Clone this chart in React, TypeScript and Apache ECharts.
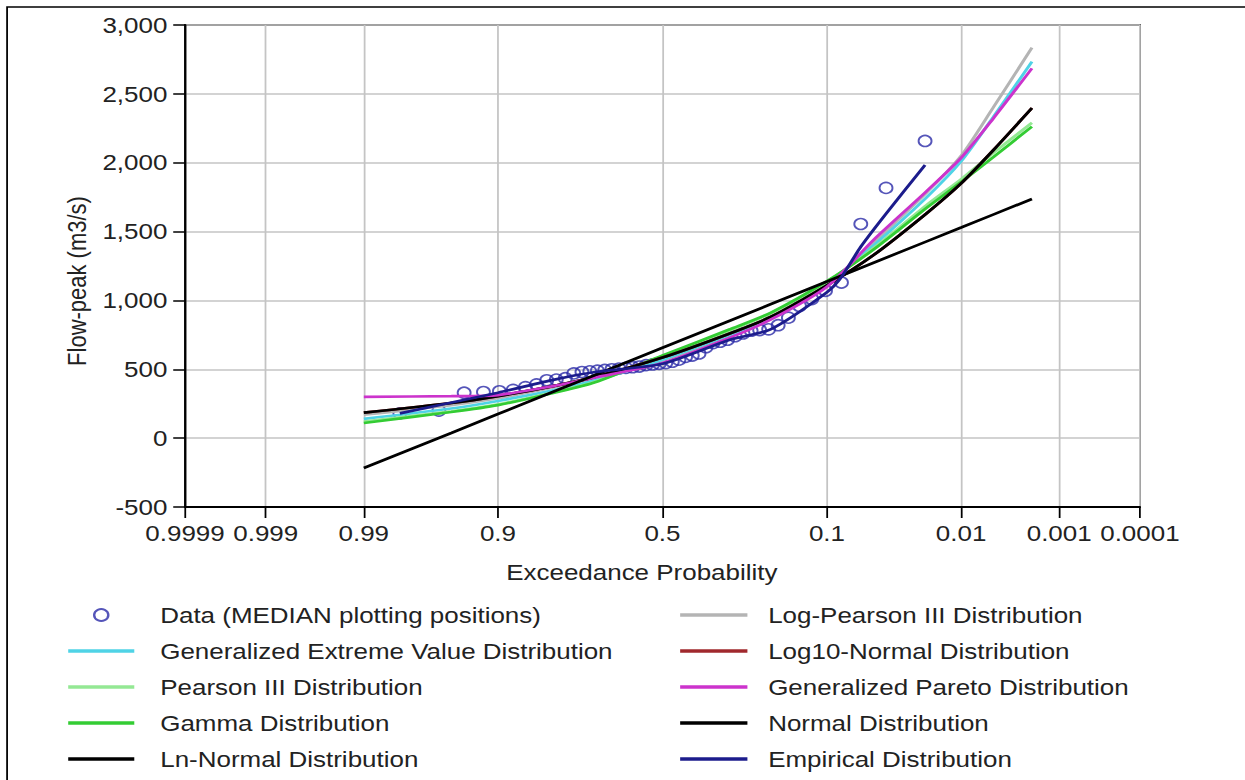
import React, { useEffect, useRef } from 'react';
import * as echarts from 'echarts';

// Horizontal stretch of the original picture
const S = 1.18;
const CW = 1245 / S;

const X_TICK_LABELS = ['0.9999', '0.999', '0.99', '0.9', '0.5', '0.1', '0.01', '0.001', '0.0001'];
const Y_MIN = -500;
const Y_MAX = 3000;
const Y_STEP = 500;

// Observed data (exceedance probability, flow)
const DATA_P = [0.0204, 0.0408, 0.0612, 0.0816, 0.102, 0.1224, 0.1429, 0.1633, 0.1837, 0.2041, 0.2245, 0.2449,
  0.2653, 0.2857, 0.3061, 0.3265, 0.3469, 0.3673, 0.3878, 0.4082, 0.4286, 0.449, 0.4694, 0.4898,
  0.5102, 0.5306, 0.551, 0.5714, 0.5918, 0.6122, 0.6327, 0.6531, 0.6735, 0.6939, 0.7143, 0.7347,
  0.7551, 0.7755, 0.7959, 0.8163, 0.8367, 0.8571, 0.8776, 0.898, 0.9184, 0.9388, 0.9592, 0.9796];
const DATA_Q = [2158, 1817, 1555, 1130, 1070, 1010, 960, 875, 820, 790, 785, 780,
  760, 740, 715, 700, 690, 660, 615, 600, 590, 570, 555, 545,
  540, 535, 530, 520, 515, 510, 505, 500, 495, 490, 485, 480,
  470, 435, 425, 420, 390, 370, 350, 340, 335, 330, 200, 180];

// Fitted distributions, read at these exceedance probabilities
const CURVE_P = [0.99, 0.95, 0.9, 0.8, 0.7, 0.5, 0.3, 0.2, 0.1, 0.05, 0.02, 0.01, 0.005, 0.002];
const GEV_Q = [140, 215, 270, 350, 420, 570, 750, 870, 1120, 1400, 1745, 2010, 2330, 2734];
const P3_Q = [120, 195, 245, 335, 410, 595, 780, 905, 1135, 1380, 1690, 1880, 2070, 2290];
const GAMMA_Q = [110, 190, 240, 330, 405, 600, 790, 910, 1140, 1370, 1670, 1860, 2040, 2262];
const LN_Q = [185, 255, 305, 380, 445, 585, 760, 880, 1110, 1330, 1630, 1850, 2090, 2397];
const LP3_Q = [170, 240, 290, 370, 435, 565, 740, 865, 1110, 1420, 1780, 2050, 2400, 2835];
const LOG10_Q = [185, 255, 305, 380, 445, 585, 760, 880, 1110, 1330, 1630, 1850, 2090, 2397];
const GP_Q = [300, 305, 313, 380, 440, 545, 730, 860, 1100, 1440, 1790, 2035, 2320, 2685];
const NORMAL_Q = [-217, 38, 175, 340, 459, 656, 853, 972, 1137, 1274, 1427, 1529, 1623, 1737];
const EMP_P = [0.9796, 0.9, 0.8, 0.7, 0.5, 0.3, 0.2, 0.1, 0.0816, 0.0612, 0.0408, 0.0204];
const EMP_Q = [180, 330, 425, 480, 540, 715, 790, 1060, 1170, 1390, 1630, 1983];

const NAMES = {
  data: 'Data (MEDIAN plotting positions)',
  gev: 'Generalized Extreme Value Distribution',
  p3: 'Pearson III Distribution',
  gamma: 'Gamma Distribution',
  ln: 'Ln-Normal Distribution',
  lp3: 'Log-Pearson III Distribution',
  log10: 'Log10-Normal Distribution',
  gp: 'Generalized Pareto Distribution',
  normal: 'Normal Distribution',
  emp: 'Empirical Distribution',
};

function normInv(p: number): number {
  const a = [-3.969683028665376e1, 2.209460984245205e2, -2.759285104469687e2, 1.38357751867269e2, -3.066479806614716e1, 2.506628277459239];
  const b = [-5.447609879822406e1, 1.615858368580409e2, -1.556989798598866e2, 6.680131188771972e1, -1.328068155288572e1];
  const c = [-7.784894002430293e-3, -3.223964580411365e-1, -2.400758277161838, -2.549732539343734, 4.374664141464968, 2.938163982698783];
  const d = [7.784695709041462e-3, 3.224671290700398e-1, 2.445134137142996, 3.754408661907416];
  const pl = 0.02425;
  const ph = 1 - pl;
  if (p < pl) {
    const q = Math.sqrt(-2 * Math.log(p));
    return (((((c[0] * q + c[1]) * q + c[2]) * q + c[3]) * q + c[4]) * q + c[5]) / ((((d[0] * q + d[1]) * q + d[2]) * q + d[3]) * q + 1);
  }
  if (p <= ph) {
    const q = p - 0.5;
    const r = q * q;
    return ((((((a[0] * r + a[1]) * r + a[2]) * r + a[3]) * r + a[4]) * r + a[5]) * q) / (((((b[0] * r + b[1]) * r + b[2]) * r + b[3]) * r + b[4]) * r + 1);
  }
  const q = Math.sqrt(-2 * Math.log(1 - p));
  return -(((((c[0] * q + c[1]) * q + c[2]) * q + c[3]) * q + c[4]) * q + c[5]) / ((((d[0] * q + d[1]) * q + d[2]) * q + d[3]) * q + 1);
}
// exceedance probability -> standard normal variate
const zOf = (exceed: number) => normInv(1 - exceed);

const X_TICK_Z = X_TICK_LABELS.map((s) => zOf(Number(s)));

const FONT = '"Liberation Sans", Arial, sans-serif';
const TXT = '#222';
const FS = 22;

export default function App() {
  const ref = useRef<HTMLDivElement>(null);

  useEffect(() => {
    if (!ref.current) return;
    const chart = echarts.init(ref.current, undefined, { renderer: 'svg' });

    const curve = (arr: number[]) => CURVE_P.map((p, i) => [zOf(p), arr[i]]);
    const lineSeries = (name: string, color: string, arr: number[][], z: number) => ({
      name,
      type: 'line',
      data: arr,
      symbol: 'none',
      smooth: 0.25,
      z,
      lineStyle: { color, width: 2.7 },
      itemStyle: { color },
      emphasis: { disabled: true },
    });

    const lineItem = (name: string) => ({ name, itemStyle: { opacity: 0 } });

    const legendCommon = {
      orient: 'vertical',
      top: 603,
      padding: 0,
      itemHeight: 12,
      itemGap: 12,
      selectedMode: false,
      lineStyle: { width: 3.6 },
      textStyle: { fontFamily: FONT, fontSize: FS, color: TXT, lineHeight: 24 },
    };

    chart.setOption({
      animation: false,
      backgroundColor: '#fff',
      grid: {
        left: 156.8,
        right: CW - 966.1,
        top: 25,
        bottom: 273,
        show: true,
        borderColor: '#000',
        borderWidth: 1.5,
        backgroundColor: 'transparent',
      },
      graphic: [
        {
          type: 'rect',
          silent: true,
          z: -1,
          shape: { x: 6, y: 7, width: 1400, height: 900 },
          style: { fill: 'none', stroke: '#000', lineWidth: 1.5 },
        },
      ],
      legend: [
        {
          ...legendCommon,
          left: 56,
          itemWidth: 56,
          textStyle: { ...legendCommon.textStyle, padding: [0, 0, 0, 17] },
          data: [
            { name: NAMES.data },
            lineItem(NAMES.gev),
            lineItem(NAMES.p3),
            lineItem(NAMES.gamma),
            lineItem(NAMES.ln),
          ],
        },
        {
          ...legendCommon,
          left: 574.6,
          itemWidth: 57,
          textStyle: { ...legendCommon.textStyle, padding: [0, 0, 0, 12.6] },
          data: [
            lineItem(NAMES.lp3),
            lineItem(NAMES.log10),
            lineItem(NAMES.gp),
            lineItem(NAMES.normal),
            lineItem(NAMES.emp),
          ],
        },
      ],
      xAxis: {
        type: 'value',
        min: X_TICK_Z[0],
        max: X_TICK_Z[X_TICK_Z.length - 1],
        axisLine: { onZero: false, lineStyle: { color: '#000', width: 2 } },
        axisTick: { customValues: X_TICK_Z, length: 11, lineStyle: { color: '#000', width: 1.5 } },
        axisLabel: {
          customValues: X_TICK_Z,
          margin: 15,
          fontFamily: FONT,
          fontSize: FS,
          color: TXT,
          formatter: (v: number) => {
            let best = 0;
            let bd = Infinity;
            X_TICK_Z.forEach((z, i) => {
              const dd = Math.abs(z - v);
              if (dd < bd) { bd = dd; best = i; }
            });
            return X_TICK_LABELS[best];
          },
        },
        splitLine: { show: true, lineStyle: { color: '#c4c4c4', width: 1.5 } },
        name: 'Exceedance Probability',
        nameLocation: 'middle',
        nameGap: 54,
        nameTextStyle: { fontFamily: FONT, fontSize: FS, color: TXT, padding: [0, 35, 0, 0] },
      },
      yAxis: {
        type: 'value',
        min: Y_MIN,
        max: Y_MAX,
        interval: Y_STEP,
        axisLine: { show: true, onZero: false, lineStyle: { color: '#000', width: 2 } },
        axisTick: { show: true, length: 10, lineStyle: { color: '#000', width: 1.5 } },
        axisLabel: {
          margin: 15,
          fontFamily: FONT,
          fontSize: FS,
          color: TXT,
          formatter: (v: number) => v.toLocaleString('en-US'),
        },
        splitLine: { show: true, lineStyle: { color: '#c4c4c4', width: 1.5 } },
        name: 'Flow-peak (m3/s)',
        nameLocation: 'middle',
        nameGap: 80,
        nameTextStyle: { fontFamily: FONT, fontSize: FS, color: TXT, padding: [0, 30, 0, 0] },
      },
      series: [
        {
          name: NAMES.data,
          type: 'scatter',
          data: DATA_P.map((p, i) => [zOf(p), DATA_Q[i]]),
          symbol: 'circle',
          symbolSize: 11,
          z: 1,
          itemStyle: { color: 'rgba(255,255,255,0)', borderColor: '#2a2aa8', borderWidth: 1.6 },
          emphasis: { disabled: true },
        },
        lineSeries(NAMES.lp3, '#b4b4b4', curve(LP3_Q), 2),
        lineSeries(NAMES.gev, '#4fd3e6', curve(GEV_Q), 3),
        lineSeries(NAMES.p3, '#94e894', curve(P3_Q), 3),
        lineSeries(NAMES.gamma, '#33cc33', curve(GAMMA_Q), 4),
        lineSeries(NAMES.log10, '#a0282d', curve(LOG10_Q), 4),
        lineSeries(NAMES.ln, '#000000', curve(LN_Q), 5),
        lineSeries(NAMES.gp, '#cc33cc', curve(GP_Q), 5),
        { ...lineSeries(NAMES.normal, '#000000', curve(NORMAL_Q), 6), smooth: false },
        lineSeries(NAMES.emp, '#1c1c8c', EMP_P.map((p, i) => [zOf(p), EMP_Q[i]]), 7),
      ],
    });

    return () => chart.dispose();
  }, []);

  return (
    <div
      ref={ref}
      style={{
        position: 'absolute',
        left: 0,
        top: 0,
        width: CW,
        height: 780,
        transform: `scaleX(${S})`,
        transformOrigin: '0 0',
        background: '#fff',
      }}
    />
  );
}
